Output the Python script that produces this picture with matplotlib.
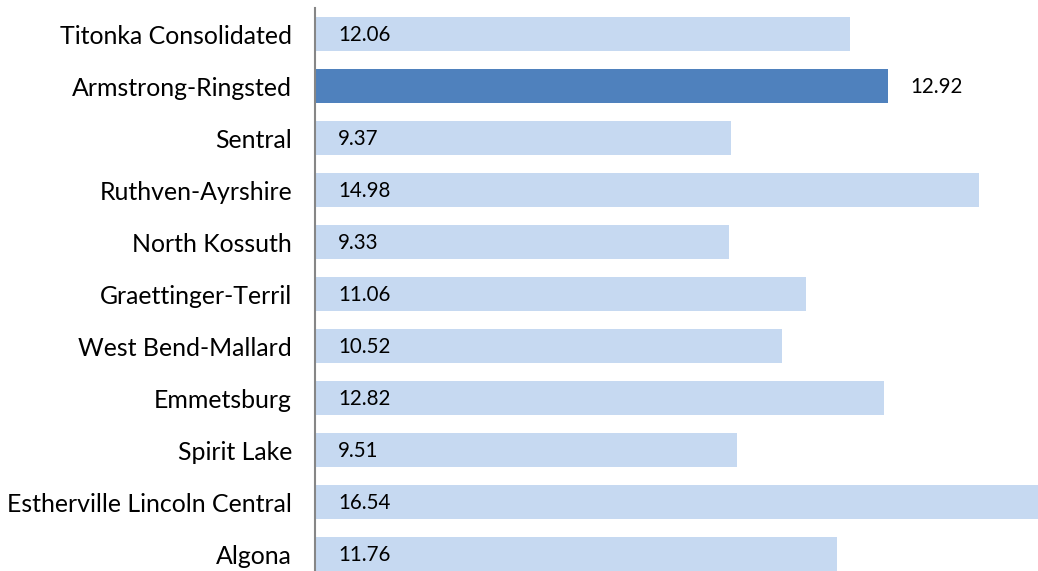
import matplotlib
matplotlib.use("Agg")
import matplotlib.pyplot as plt

categories = ["Titonka Consolidated", "Armstrong-Ringsted", "Sentral", "Ruthven-Ayrshire",
              "North Kossuth", "Graettinger-Terril", "West Bend-Mallard", "Emmetsburg",
              "Spirit Lake", "Estherville Lincoln Central", "Algona"]
values = [12.06, 12.92, 9.37, 14.98, 9.33, 11.06, 10.52, 12.82, 9.51, 16.54, 11.76]
highlight = "Armstrong-Ringsted"

W, H = 1038, 571
fig = plt.figure(figsize=(W / 100, H / 100), dpi=100)
left_px, top_px = 315, 8
ax = fig.add_axes([left_px / W, 0, 1 - left_px / W, (H - top_px) / H])

light = "#C6D9F1"
dark = "#4F81BD"
pos = list(range(len(categories)))
colors = [dark if c == highlight else light for c in categories]
ax.barh(pos, values, height=0.655, color=colors, zorder=2)

xmax = (W - left_px) / 44.35
ax.set_xlim(0, xmax)
ax.set_ylim((H - 34) / 52, -0.5)

font = "Lato"
for p, v, c in zip(pos, values, categories):
    if c == highlight:
        ax.text(v + 22 / 44.35, p + 0.01, f"{v:.2f}", va="center", ha="left",
                fontsize=14.8, family=font, color="black")
    else:
        ax.text(23 / 44.35, p + 0.01, f"{v:.2f}", va="center", ha="left",
                fontsize=14.8, family=font, color="black")

ax.set_yticks(pos)
ax.set_yticklabels(categories, fontsize=17.9, family=font)
ax.tick_params(axis="y", length=0, pad=16.5)
ax.set_xticks([])
for s in ["top", "right", "bottom"]:
    ax.spines[s].set_visible(False)
ax.spines["left"].set_color("#868686")
ax.spines["left"].set_linewidth(1.5)
ax.spines["left"].set_zorder(3)

fig.savefig("out.png", dpi=100)
